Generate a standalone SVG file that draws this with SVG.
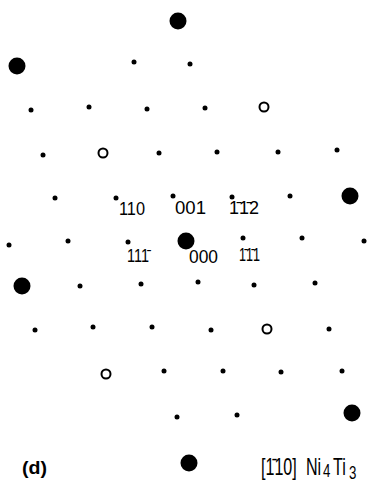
<svg xmlns="http://www.w3.org/2000/svg" width="373" height="482" viewBox="0 0 373 482">
<style>
.s{fill:#000}
.b{fill:#000}
.o{fill:none;stroke:#000;stroke-width:2}
.t{font-family:"Liberation Sans",Arial,sans-serif;font-size:17.5px;fill:#000}
.l{font-family:"Liberation Sans",Arial,sans-serif;font-size:23px;fill:#000}
.d{font-family:"Liberation Sans",Arial,sans-serif;font-size:19px;font-weight:bold;fill:#000}
</style>
<rect width="373" height="482" fill="#fff"/>
<g id="strong">
<circle class="b" cx="178" cy="21" r="8.5"/>
<circle class="b" cx="17" cy="66" r="8.5"/>
<circle class="b" cx="350" cy="196" r="8.5"/>
<circle class="b" cx="186" cy="241" r="8.5"/>
<circle class="b" cx="22" cy="286" r="8.5"/>
<circle class="b" cx="352" cy="413" r="8.5"/>
<circle class="b" cx="189" cy="463" r="8.5"/>
</g>
<g id="open">
<circle class="o" cx="264" cy="107" r="4.5"/>
<circle class="o" cx="103" cy="153" r="4.5"/>
<circle class="o" cx="267" cy="329" r="4.5"/>
<circle class="o" cx="106" cy="374" r="4.5"/>
</g>
<g id="weak">
<circle class="s" cx="134" cy="62" r="2.5"/>
<circle class="s" cx="190" cy="64" r="2.5"/>
<circle class="s" cx="31" cy="110" r="2.5"/>
<circle class="s" cx="89" cy="107" r="2.5"/>
<circle class="s" cx="147" cy="109" r="2.5"/>
<circle class="s" cx="205" cy="108" r="2.5"/>
<circle class="s" cx="43" cy="155" r="2.5"/>
<circle class="s" cx="159" cy="153" r="2.5"/>
<circle class="s" cx="217" cy="152" r="2.5"/>
<circle class="s" cx="278" cy="152" r="2.5"/>
<circle class="s" cx="337" cy="150" r="2.5"/>
<circle class="s" cx="55" cy="198" r="2.5"/>
<circle class="s" cx="116" cy="198" r="2.5"/>
<circle class="s" cx="173" cy="196" r="2.5"/>
<circle class="s" cx="232" cy="197" r="2.5"/>
<circle class="s" cx="290" cy="196" r="2.5"/>
<circle class="s" cx="9" cy="245" r="2.5"/>
<circle class="s" cx="68" cy="241" r="2.5"/>
<circle class="s" cx="128" cy="242" r="2.5"/>
<circle class="s" cx="243" cy="238" r="2.5"/>
<circle class="s" cx="302" cy="238" r="2.5"/>
<circle class="s" cx="364" cy="241" r="2.5"/>
<circle class="s" cx="80" cy="286" r="2.5"/>
<circle class="s" cx="141" cy="284" r="2.5"/>
<circle class="s" cx="198" cy="282" r="2.5"/>
<circle class="s" cx="254" cy="285" r="2.5"/>
<circle class="s" cx="315" cy="283" r="2.5"/>
<circle class="s" cx="35" cy="330" r="2.5"/>
<circle class="s" cx="93" cy="327" r="2.5"/>
<circle class="s" cx="152" cy="327" r="2.5"/>
<circle class="s" cx="211" cy="330" r="2.5"/>
<circle class="s" cx="329" cy="329" r="2.5"/>
<circle class="s" cx="164" cy="371" r="2.5"/>
<circle class="s" cx="223" cy="371" r="2.5"/>
<circle class="s" cx="281" cy="372" r="2.5"/>
<circle class="s" cx="342" cy="371" r="2.5"/>
<circle class="s" cx="177" cy="417" r="2.5"/>
<circle class="s" cx="237" cy="415" r="2.5"/>
</g>
<g id="labels">
<text class="t" x="119" y="215" textLength="26" lengthAdjust="spacingAndGlyphs">110</text>
<text class="t" x="175" y="214" textLength="31" lengthAdjust="spacingAndGlyphs">001</text>
<text class="t" x="229" y="214" textLength="30" lengthAdjust="spacingAndGlyphs">1̄1̄2</text>
<text class="t" x="127" y="262" textLength="22" lengthAdjust="spacingAndGlyphs">111̄</text>
<text class="t" x="189" y="263" textLength="29" lengthAdjust="spacingAndGlyphs">000</text>
<text class="t" x="239" y="261" textLength="21" lengthAdjust="spacingAndGlyphs">1̄1̄1</text>
<text class="d" x="22" y="474" textLength="25" lengthAdjust="spacingAndGlyphs">(d)</text>
<text class="l" transform="translate(261,475) scale(0.7,1)" x="0" y="0">[1̄10]<tspan x="64.3" y="0">Ni</tspan><tspan x="88.6" y="2" font-size="19px">4</tspan><tspan x="102.9" y="0">Ti</tspan><tspan x="125.7" y="3.5" font-size="19px">3</tspan></text>
</g>
</svg>
